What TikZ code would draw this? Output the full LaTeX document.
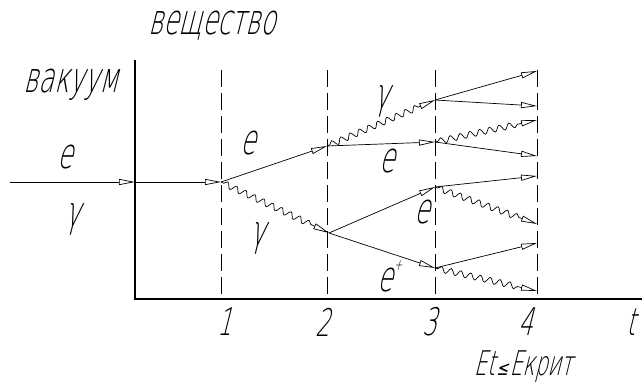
\documentclass[tikz,border=0pt]{standalone}
\usepackage{fontspec}
\newfontfamily\gost{DejaVu Sans ExtraLight}[FakeSlant=0.25,FakeStretch=0.6]
\newfontfamily\gostsym{DejaVu Sans}[FakeSlant=0.25,FakeStretch=0.7]
\usetikzlibrary{arrows.meta,decorations.pathmorphing}

\tikzset{
  particle/.style={line width=0.7pt, -{Triangle[open,length=16pt,width=6pt]}},
  photon/.style={particle, decorate,
    decoration={snake, amplitude=3pt, segment length=10pt, pre length=3pt, post length=16pt}},
  boundary/.style={line width=0.7pt, dash pattern=on 17pt off 6pt},
  lbl/.style={font=\gost\fontsize{42}{44}\selectfont, inner sep=0pt},
  numlbl/.style={font=\gost\fontsize{38}{40}\selectfont, inner sep=0pt}
}

\begin{document}
\begin{tikzpicture}[x=1pt,y=-1pt]
    \useasboundingbox (0,0) rectangle (642,388);

    % Axes
    \draw[line width=2.8pt] (135,60) -- (135,299) -- (642,299);

    % Generation boundaries
    \foreach \x in {221,327,435,537}
        \draw[boundary] (\x,70) -- (\x,299);

    % Vertices
    \coordinate (src) at (10,182);
    \coordinate (wall) at (135,182);
    \coordinate (v1) at (221,182);
    \coordinate (v2e) at (327,146);
    \coordinate (v2g) at (329,233);
    \coordinate (v3a) at (435,100);
    \coordinate (v3b) at (435,142);
    \coordinate (v3c) at (435,187);
    \coordinate (v3d) at (435,268);
    \coordinate (end1) at (537,71);
    \coordinate (end2) at (537,106);
    \coordinate (end3) at (537,120);
    \coordinate (end4) at (537,156);
    \coordinate (end5) at (537,176);
    \coordinate (end6) at (537,224);
    \coordinate (end7) at (537,243);
    \coordinate (end8) at (537,291);

    % Incoming particle
    \draw[particle] (src) -- (wall);
    \draw[particle] (wall) -- (v1);

    % Cascade
    \draw[particle] (v1) -- (v2e);
    \draw[photon] (v1) -- (v2g);
    \draw[photon] (v2e) -- (v3a);
    \draw[particle] (v2e) -- (v3b);
    \draw[particle] (v2g) -- (v3c);
    \draw[particle] (v2g) -- (v3d);
    \draw[particle] (v3a) -- (end1);
    \draw[particle] (v3a) -- (end2);
    \draw[photon] (v3b) -- (end3);
    \draw[particle] (v3b) -- (end4);
    \draw[particle] (v3c) -- (end5);
    \draw[photon] (v3c) -- (end6);
    \draw[particle] (v3d) -- (end7);
    \draw[photon] (v3d) -- (end8);

    % Labels
    \node[lbl] (matter) at (212,26) {вещество};
    \node[lbl] (vacuum) at (71,85) {вакуум};
    \node[lbl] (ein) at (65,157) {e};
    \node[lbl] (gin) at (73,219) {γ};
    \node[lbl] (e1) at (248,143) {e};
    \node[lbl] (g1) at (258,238) {γ};
    \node[lbl] (g2) at (382,101) {γ};
    \node[lbl] (e2) at (387,161) {e};
    \node[lbl] (e3) at (422,212) {e};
    \node[lbl] (pos) at (390,276) {e\kern1pt\raisebox{0.5em}{\fontsize{16}{16}\selectfont +}};

    % Axis marks
    \node[numlbl] (n1) at (225,322) {1};
    \node[numlbl] (n2) at (323,322) {2};
    \node[numlbl] (n3) at (430,322) {3};
    \node[numlbl] (n4) at (526,322) {4};
    \node[numlbl] (tlbl) at (631,322) {t};
    \node[lbl, font=\gost\fontsize{34}{36}\selectfont] (crit) at (523,367)
        {Et\kern1.5pt{\gostsym\fontsize{20}{20}\selectfont ≤}\kern1.5pt Eкрит};

\end{tikzpicture}
\end{document}
